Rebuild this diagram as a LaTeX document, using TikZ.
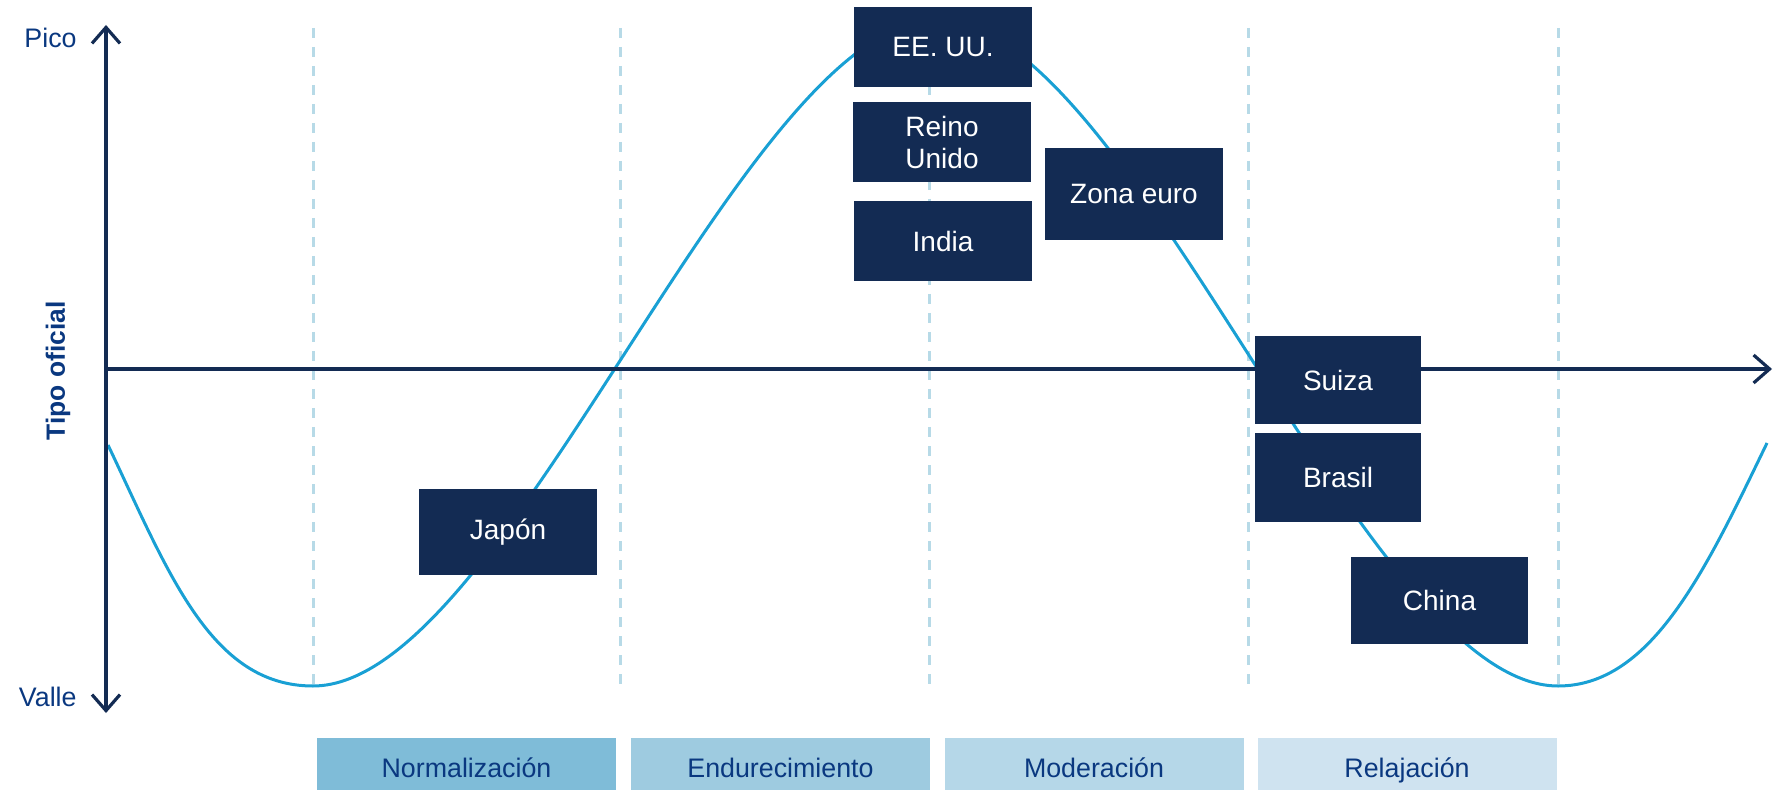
\documentclass[tikz,border=0pt]{standalone}
\usepackage{fontspec}
\setmainfont{Liberation Sans}
\usetikzlibrary{arrows.meta}
\definecolor{navy}{RGB}{19,43,83}
\definecolor{curveblue}{RGB}{25,160,212}
\definecolor{labelblue}{RGB}{10,56,128}
\definecolor{dashblue}{RGB}{183,218,231}
\definecolor{phaseA}{RGB}{127,188,216}
\definecolor{phaseB}{RGB}{158,203,224}
\definecolor{phaseC}{RGB}{181,215,232}
\definecolor{phaseD}{RGB}{207,227,240}
\tikzset{
  cbox/.style={fill=navy, text=white, inner sep=0pt, align=center,
    font=\fontsize{14}{16}\selectfont, minimum width=89pt},
  phasebox/.style={inner sep=0pt, text=labelblue, font=\fontsize{13.4}{15}\selectfont,
    minimum width=149.5pt, minimum height=26pt, text height=15pt, text depth=2pt},
  guide/.style={dashblue, line width=1.5pt, dash pattern=on 5pt off 4.5pt},
  axisline/.style={navy, line width=1.6pt,
    arrows={Straight Barb[length=8pt,width=14pt,line width=1.6pt]-Straight Barb[length=8pt,width=14pt,line width=1.6pt]}},
  axisright/.style={navy, line width=1.6pt, -{Straight Barb[length=8pt,width=14pt,line width=1.6pt]}},
  axlabel/.style={text=labelblue, font=\fontsize{13.4}{15}\selectfont, inner sep=0pt}
}
\begin{document}
\begin{tikzpicture}[x=0.5pt,y=-0.5pt]
\useasboundingbox (0,0) rectangle (1780,790);
% guide lines
\foreach \gx/\gn in {313/g1,620/g2,929/g3,1248/g4,1558/g5}{
  \coordinate (\gn top) at (\gx,28);
  \coordinate (\gn bot) at (\gx,687);
  \draw[guide] (\gn top) -- (\gn bot);
}
% curve
\coordinate (c0) at (108,445);
\coordinate (t1) at (313,686);
\coordinate (pk) at (937,20);
\coordinate (t2) at (1558,686);
\coordinate (c1) at (1767,443);
\draw[curveblue, line width=1.5pt]
  (c0) .. controls (168,571) and (210,686) .. (t1)
       .. controls (507,686) and (743,20) .. (pk)
       .. controls (1131,20) and (1364,686) .. (t2)
       .. controls (1652,686) and (1706,569) .. (c1);
% axes
\coordinate (ytop) at (106,25);
\coordinate (ybot) at (106,713);
\coordinate (xleft) at (106,369);
\coordinate (xright) at (1772,369);
\draw[axisline] (ybot) -- (ytop);
\draw[axisright] (xleft) -- (xright);
% axis labels
\node[axlabel, anchor=east] (pico) at (77,38) {Pico};
\node[axlabel, anchor=east] (valle) at (77,697) {Valle};
\node[axlabel, rotate=90, font=\fontsize{13.2}{15}\selectfont\bfseries] (tipo) at (58,371) {Tipo oficial};
% country boxes
\node[cbox, minimum height=40pt] (us) at (943,47) {EE.\ UU.};
\node[cbox, minimum height=40pt] (uk) at (942,142) {Reino\\Unido};
\node[cbox, minimum height=40pt] (india) at (943,241) {India};
\node[cbox, minimum height=46pt] (euro) at (1134,194) {Zona euro};
\node[cbox, minimum height=43pt] (japon) at (508,532) {Japón};
\node[cbox, minimum width=83pt, minimum height=44pt] (suiza) at (1338,380) {Suiza};
\node[cbox, minimum width=83pt, minimum height=44.5pt] (brasil) at (1338,477.5) {Brasil};
\node[cbox, minimum width=88.5pt, minimum height=43.5pt] (china) at (1439.5,600.5) {China};
% phase boxes
\node[phasebox, fill=phaseA] (norm) at (466.5,764) {Normalización};
\node[phasebox, fill=phaseB] (endu) at (780.5,764) {Endurecimiento};
\node[phasebox, fill=phaseC] (mode) at (1094,764) {Moderación};
\node[phasebox, fill=phaseD] (rela) at (1407,764) {Relajación};
\end{tikzpicture}
\end{document}
